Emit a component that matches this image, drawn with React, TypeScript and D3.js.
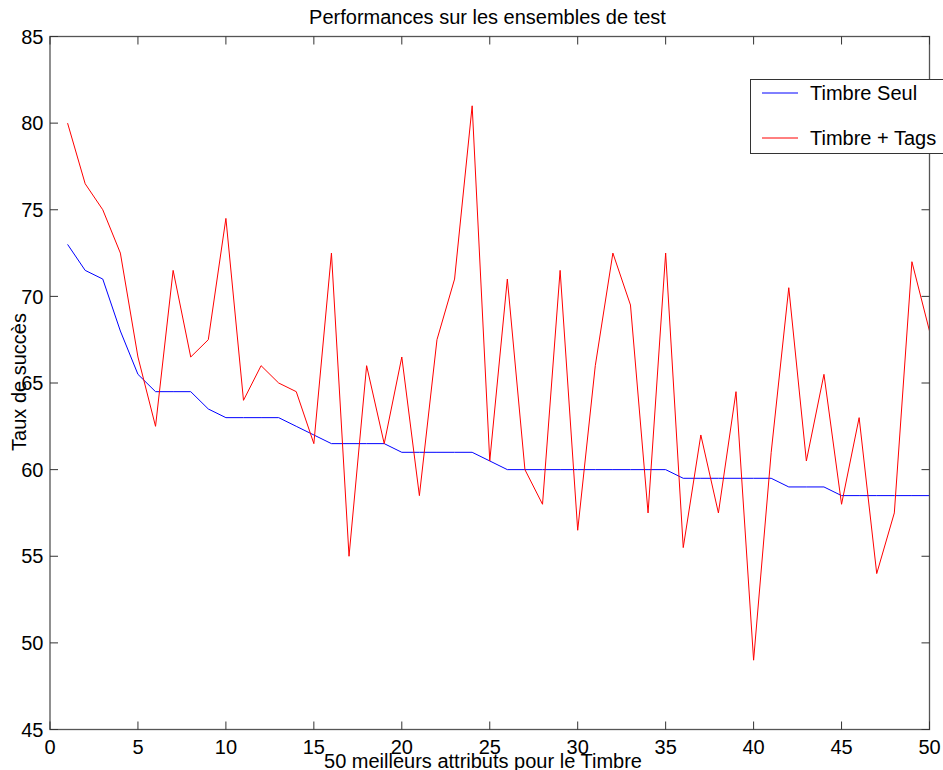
import React from 'react'
import * as d3 from 'd3'

// nombre d'attributs retenus (axe x)
const attributeCounts = [
  1, 2, 3, 4, 5, 6, 7, 8, 9, 10,
  11, 12, 13, 14, 15, 16, 17, 18, 19, 20,
  21, 22, 23, 24, 25, 26, 27, 28, 29, 30,
  31, 32, 33, 34, 35, 36, 37, 38, 39, 40,
  41, 42, 43, 44, 45, 46, 47, 48, 49, 50,
]

const timbreSeul = [
  73, 71.5, 71, 68, 65.5, 64.5, 64.5, 64.5, 63.5, 63,
  63, 63, 63, 62.5, 62, 61.5, 61.5, 61.5, 61.5, 61,
  61, 61, 61, 61, 60.5, 60, 60, 60, 60, 60,
  60, 60, 60, 60, 60, 59.5, 59.5, 59.5, 59.5, 59.5,
  59.5, 59, 59, 59, 58.5, 58.5, 58.5, 58.5, 58.5, 58.5,
]

const timbreTags = [
  80, 76.5, 75, 72.5, 66.5, 62.5, 71.5, 66.5, 67.5, 74.5,
  64, 66, 65, 64.5, 61.5, 72.5, 55, 66, 61.5, 66.5,
  58.5, 67.5, 71, 81, 60.5, 71, 60, 58, 71.5, 56.5,
  66, 72.5, 69.5, 57.5, 72.5, 55.5, 62, 57.5, 64.5, 49,
  61, 70.5, 60.5, 65.5, 58, 63, 54, 57.5, 72, 68,
]

const xTicks = [0, 5, 10, 15, 20, 25, 30, 35, 40, 45, 50]
const yTicks = [45, 50, 55, 60, 65, 70, 75, 80, 85]

const series = [
  {name: 'Timbre Seul', values: timbreSeul, color: '#0000ff'},
  {name: 'Timbre + Tags', values: timbreTags, color: '#ff0000'},
]

const W = 943
const H = 770
const left = 50
const right = 929.5
const top = 36.5
const bottom = 729.5
const font = 'Liberation Sans, Arial, sans-serif'
const fs = 20
const tickLen = 8

const App = () => {
  const x = d3.scaleLinear().domain([0, 50]).range([left, right])
  const y = d3.scaleLinear().domain([45, 85]).range([bottom, top])

  const line = (vals: number[]) =>
    d3.line<number>()
      .x((_, i) => x(attributeCounts[i]))
      .y((v) => y(v))(vals) || ''

  return (
    <svg width={W} height={H} style={{position: 'absolute', left: 0, top: 0, background: '#fff'}}
      fontFamily={font}>
      <rect x={0} y={0} width={W} height={H} fill="#fff"/>

      {/* lignes */}
      {series.map((s) => (
        <path key={s.name} d={line(s.values)} fill="none" stroke={s.color} strokeWidth={1}/>
      ))}

      {/* cadre */}
      <rect x={left} y={top} width={right - left} height={bottom - top}
        fill="none" stroke="#555" strokeWidth={1.3}/>

      {/* graduations x */}
      {xTicks.map((t) => (
        <g key={'x' + t}>
          <line x1={x(t)} x2={x(t)} y1={bottom} y2={bottom - tickLen} stroke="#333"/>
          <line x1={x(t)} x2={x(t)} y1={top} y2={top + tickLen} stroke="#333"/>
          <text x={x(t)} y={bottom + 24.5} textAnchor="middle" fontSize={fs} fill="#000">{t}</text>
        </g>
      ))}

      {/* graduations y */}
      {yTicks.map((t) => (
        <g key={'y' + t}>
          <line x1={left} x2={left + tickLen} y1={y(t)} y2={y(t)} stroke="#333"/>
          <line x1={right} x2={right - tickLen} y1={y(t)} y2={y(t)} stroke="#333"/>
          <text x={43.5} y={y(t) + 7.2} textAnchor="end" fontSize={fs} fill="#000">{t}</text>
        </g>
      ))}

      {/* titres */}
      <text x={487.5} y={24} textAnchor="middle" fontSize={fs} fill="#000">
        Performances sur les ensembles de test
      </text>
      <text x={483} y={767.5} textAnchor="middle" fontSize={fs} fill="#000">
        50 meilleurs attributs pour le Timbre
      </text>
      <text transform={`translate(26, ${(top + bottom) / 2 - 1}) rotate(-90)`} textAnchor="middle"
        fontSize={fs} fill="#000">
        Taux de succès
      </text>

      {/* légende */}
      <g>
        <rect x={750.5} y={79.5} width={220} height={74} fill="#fff" stroke="#333" strokeWidth={1}/>
        {series.map((s, i) => (
          <g key={s.name}>
            <line x1={762} x2={798} y1={93 + i * 45} y2={93 + i * 45} stroke={s.color} strokeWidth={1}/>
            <text x={810} y={93 + i * 45 + 7.2} fontSize={fs} fill="#000">{s.name}</text>
          </g>
        ))}
      </g>
    </svg>
  )
}

export default App
